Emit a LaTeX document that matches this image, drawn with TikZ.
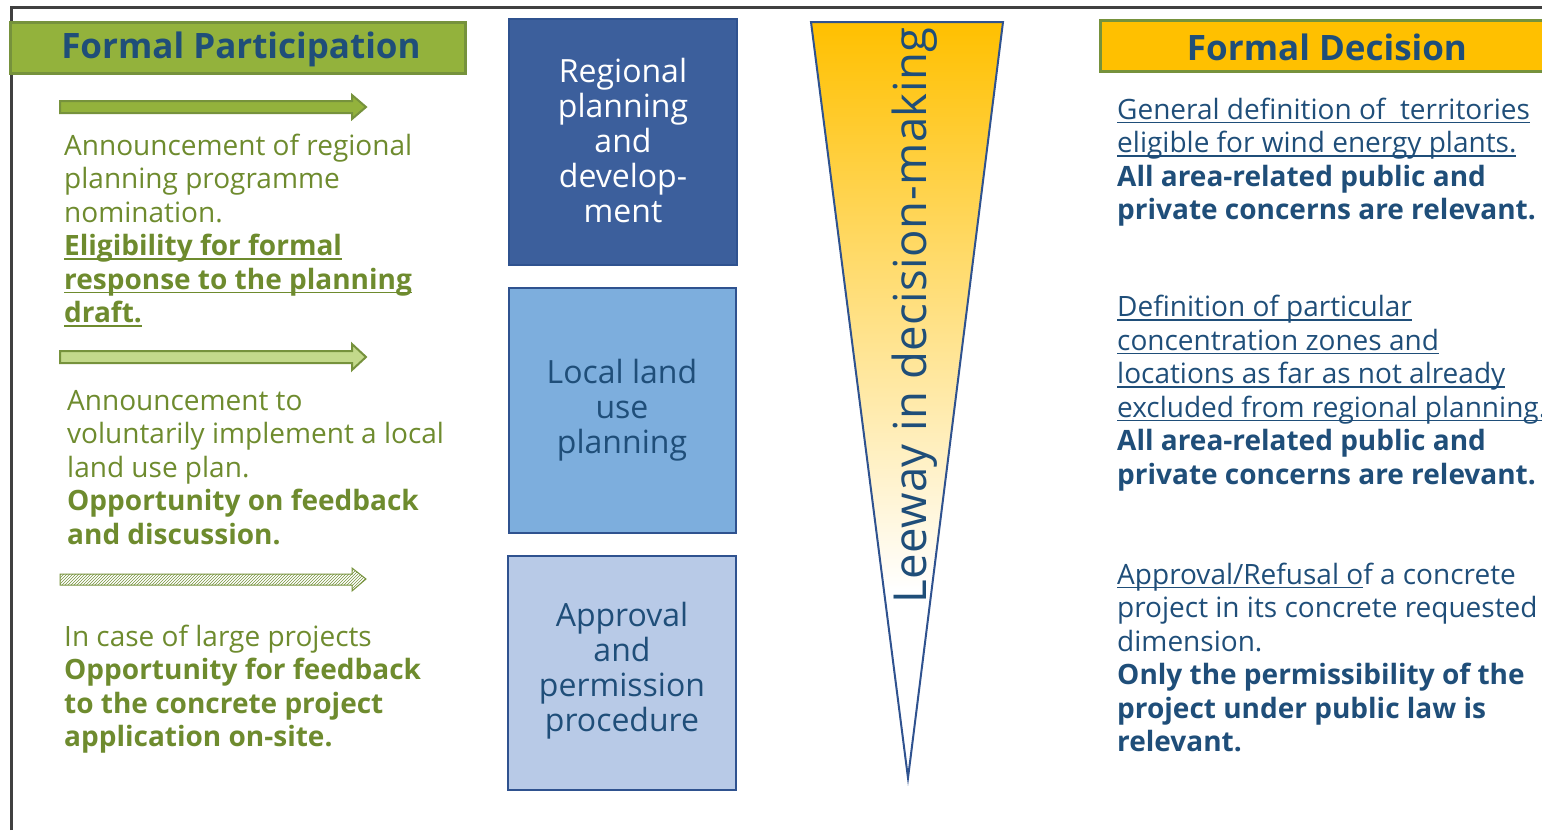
\documentclass[tikz,border=0pt]{standalone}
\usepackage{fontspec}
\setmainfont{Open Sans}
\newfontfamily\spacedfont[LetterSpace=1.0]{Open Sans}
\usetikzlibrary{patterns}
\newsavebox\ulxbox
\newcommand\ulx[1]{\sbox\ulxbox{#1}\rlap{\rule[-4pt]{\wd\ulxbox}{1.4pt}}\usebox\ulxbox}
\definecolor{olivedk}{HTML}{76923C}
\definecolor{olivetxt}{HTML}{6E8B2E}
\definecolor{olivefill}{HTML}{93B23C}
\definecolor{lightgreen}{HTML}{C3D98B}
\definecolor{navy}{HTML}{1F4E79}
\definecolor{boxborder}{HTML}{2F528F}
\definecolor{boxone}{HTML}{3C5F9C}
\definecolor{boxtwo}{HTML}{7DAEDD}
\definecolor{boxthree}{HTML}{B8CAE7}
\definecolor{gold}{HTML}{FFC000}
\definecolor{framegray}{HTML}{404040}
\tikzset{
  header/.style={draw=olivedk, line width=3pt},
  stagebox/.style={draw=boxborder, line width=2pt},
  stagetext/.style={align=center, font=\fontsize{32}{35}\selectfont, inner sep=0pt},
  lefttext/.style={anchor=base west, align=left, inner sep=0pt, text=olivetxt, font=\fontsize{28}{33.5}\selectfont},
  righttext/.style={anchor=base west, align=left, inner sep=0pt, text=navy, font=\fontsize{28}{33.5}\selectfont},
  arrowshape/.style={draw=olivedk, line width=2pt, line join=miter},
}
\begin{document}
\begin{tikzpicture}[x=1pt,y=-1pt]
\useasboundingbox (0,0) rectangle (1542,830);
% frame
\draw[framegray, line width=3pt] (11,830) -- (11,7) -- (1545,7);
% headers
\draw[header, fill=olivefill] (10,22) rectangle (465,73);
\node[text=navy, font=\fontsize{35}{40}\bfseries\selectfont] (hfp) at (241,49) {Formal Participation};
\draw[header, fill=gold] (1100,20) rectangle (1548,71);
\node[text=navy, font=\fontsize{35}{40}\bfseries\selectfont] (hfd) at (1327,47) {Formal Decision};
% arrows
\draw[arrowshape, fill=olivefill] (60,101)--(352,101)--(352,95)--(366,107)--(352,119)--(352,113)--(60,113)--cycle;
\draw[arrowshape, fill=lightgreen] (60,351)--(352,351)--(352,344)--(366,357)--(352,370)--(352,363)--(60,363)--cycle;
\draw[draw=olivedk, line width=1pt, pattern=north east lines, pattern color=olivedk] (60,574)--(352,574)--(352,568)--(366,579)--(352,591)--(352,585)--(60,585)--cycle;
% left texts (anchor = baseline of last line)
\node[lefttext] (lt1) at (64,322.5) {Announcement of regional\\planning programme\\nomination.\\\textbf{\ulx{Eligibility for formal}}\\\textbf{\ulx{response to the planning}}\\\textbf{\ulx{draft.}}};
\node[lefttext] (lt2) at (67,544) {Announcement to\\voluntarily implement a local\\land use plan.\\\textbf{Opportunity on feedback}\\\textbf{and discussion.}};
\node[lefttext] (lt3) at (64,746.5) {In case of large projects\\\textbf{Opportunity for feedback}\\\textbf{to the concrete project}\\\textbf{application on-site.}};
% stage boxes
\draw[stagebox, fill=boxone] (509,19) rectangle (737,265);
\node[stagetext, text=white] (s1) at (623,140) {Regional\\planning\\and\\develop-\\ment};
\draw[stagebox, fill=boxtwo] (509,288) rectangle (736,533);
\node[stagetext, text=navy] (s2) at (622,410) {Local land\\use\\planning};
\draw[stagebox, fill=boxthree] (508,556) rectangle (736,790);
\node[stagetext, text=navy] (s3) at (622,671) {Approval\\and\\permission\\procedure};
% triangle
\begin{scope}
\clip (811,22) -- (1003,22) -- (908,778) -- cycle;
\shade[top color=gold, bottom color=white] (800,22) rectangle (1010,590);
\end{scope}
\draw[draw=boxborder, line width=2pt, line join=miter] (811,22) -- (1003,22) -- (908,778) -- cycle;
\node[rotate=90, anchor=base west, inner sep=0pt, text=navy, font=\fontsize{45.5}{50}\spacedfont] (lw) at (926,604) {Leeway in decision-making};
% right texts (anchor = baseline of last line)
\node[righttext] (rt1) at (1117,219.5) {\ulx{General definition of~ territories}\\\ulx{eligible for wind energy plants.}\\\textbf{All area-related public and}\\\textbf{private concerns are relevant.}};
\node[righttext] (rt2) at (1117,484) {\ulx{Definition of particular}\\\ulx{concentration zones and}\\\ulx{locations as far as not already}\\\ulx{excluded from regional planning.}\\\textbf{All area-related public and}\\\textbf{private concerns are relevant.}};
\node[righttext] (rt3) at (1117,751.5) {\ulx{Approval/Refusal o}f a concrete\\project in its concrete requested\\dimension.\\\textbf{Only the permissibility of the}\\\textbf{project under public law is}\\\textbf{relevant.}};
\end{tikzpicture}
\end{document}
